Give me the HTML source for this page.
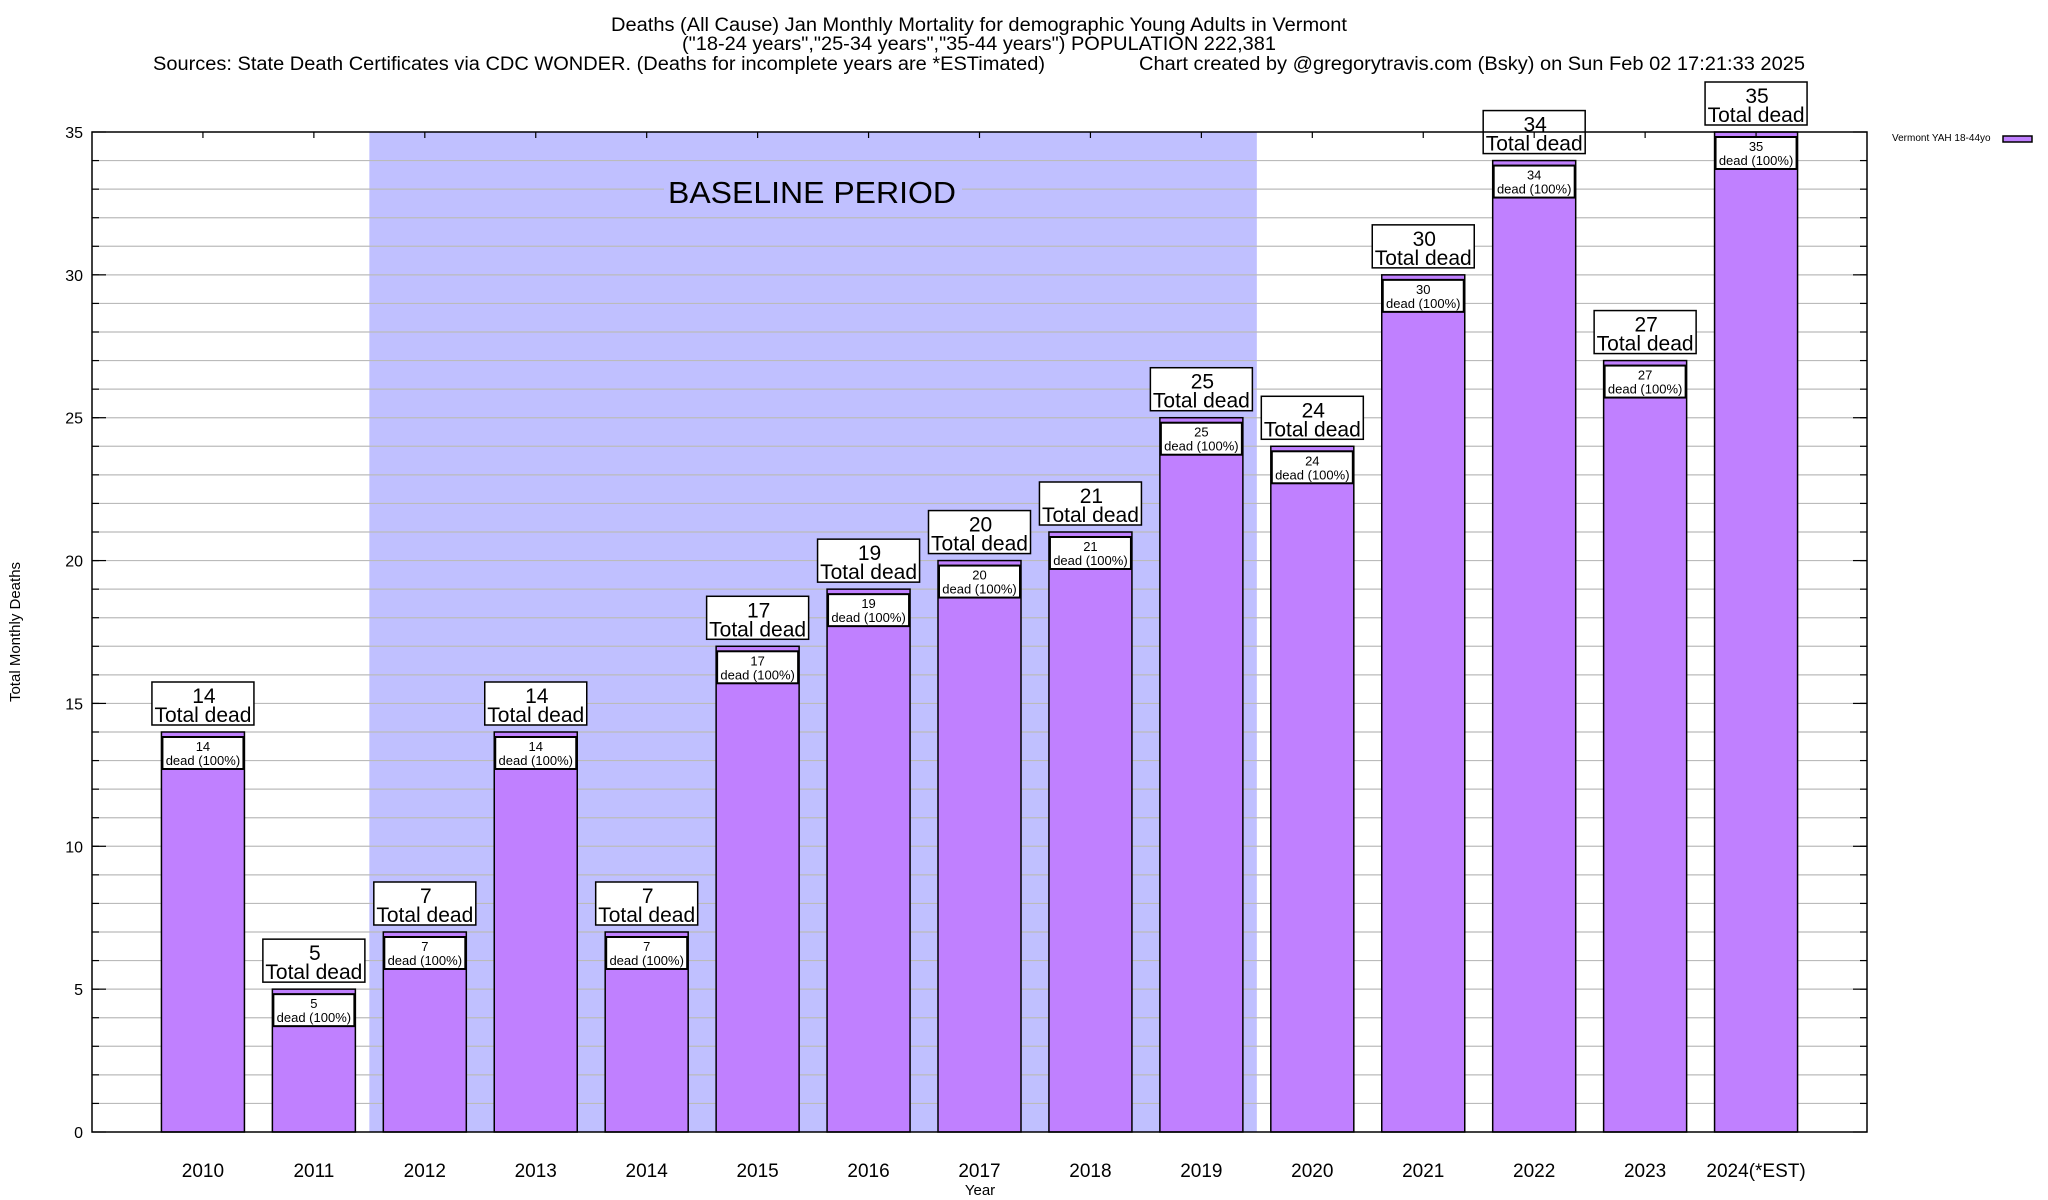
<!DOCTYPE html>
<html><head><meta charset="utf-8"><style>
html,body{margin:0;padding:0;background:#fff;}
svg{display:block;font-family:"Liberation Sans",sans-serif;}
</style></head><body>
<svg id="chart" width="2048" height="1200" viewBox="0 0 2048 1200">
<g id="titles">
<text x="979" y="31" font-size="19" text-anchor="middle" textLength="736" lengthAdjust="spacingAndGlyphs">Deaths (All Cause) Jan Monthly Mortality for demographic Young Adults in Vermont</text>
<text x="979" y="50" font-size="19" text-anchor="middle" textLength="594" lengthAdjust="spacingAndGlyphs">("18-24 years","25-34 years","35-44 years") POPULATION 222,381</text>
<text x="153" y="70" font-size="19" textLength="892" lengthAdjust="spacingAndGlyphs">Sources: State Death Certificates via CDC WONDER. (Deaths for incomplete years are *ESTimated)</text>
<text x="1139" y="70" font-size="19" textLength="666" lengthAdjust="spacingAndGlyphs">Chart created by @gregorytravis.com (Bsky) on Sun Feb 02 17:21:33 2025</text>
</g>
<g id="grid"></g>
<g id="bars"></g>
<g id="axes"></g>
<text x="20" y="632" font-size="15" text-anchor="middle" transform="rotate(-90 20 632)">Total Monthly Deaths</text>
<text x="980" y="1195" font-size="15" text-anchor="middle">Year</text>
<text x="1892" y="141" font-size="10">Vermont YAH 18-44yo</text>
<rect x="2003" y="136" width="29" height="6" fill="#c080ff" stroke="#000" stroke-width="1.5"></rect>
</svg>
<script>
const categories = ["2010","2011","2012","2013","2014","2015","2016","2017","2018","2019","2020","2021","2022","2023","2024(*EST)"];
const deaths = [14,5,7,14,7,17,19,20,21,25,24,30,34,27,35];
const yTicks = [0,5,10,15,20,25,30,35];
const baselineStart = 2; const baselineEnd = 9;
const NS="http://www.w3.org/2000/svg";
const L=92,R=1867,T=132,B=1132,YMAX=35;
const slot=(R-L)/(categories.length+1);
const xc=i=>L+(i+1)*slot;
const y=v=>B-(v/YMAX)*(B-T);
function mk(tag,attrs,parent,text){const e=document.createElementNS(NS,tag);for(const k in attrs)e.setAttribute(k,attrs[k]);if(text!==undefined)e.textContent=text;parent.appendChild(e);return e;}
const grid=document.getElementById('grid'),bars=document.getElementById('bars'),axes=document.getElementById('axes');
const bl=mk('rect',{x:xc(baselineStart)-slot/2,y:T,width:(baselineEnd-baselineStart+1)*slot,height:B-T,fill:'#c0c0ff'},grid);


for(let v=1;v<YMAX;v++){
  const g=mk('line',{x1:L,x2:R,y1:y(v),y2:y(v),stroke:'#bbb','stroke-width':1.2},grid);
  
  
  mk('line',{x1:L,x2:L+7,y1:y(v),y2:y(v),stroke:'#000','stroke-width':1.2},axes);
  mk('line',{x1:R-7,x2:R,y1:y(v),y2:y(v),stroke:'#000','stroke-width':1.2},axes);
}
mk('rect',{x:664,y:176,width:298,height:32,fill:'#c0c0ff'},grid);
const bt=mk('text',{x:668,y:203,'font-size':31,textLength:288,lengthAdjust:'spacingAndGlyphs'},grid,'BASELINE PERIOD');


const bw=83;
deaths.forEach((d,i)=>{
  const cx=xc(i),top=y(d);
  const b=mk('rect',{x:cx-bw/2,y:top,width:bw,height:B-top,fill:'#c080ff',stroke:'#000','stroke-width':1.5},bars);
  
  
  const ib=mk('rect',{x:cx-bw/2+1,y:top+5,width:bw-2,height:32,fill:'#fff',stroke:'#000','stroke-width':2},bars);
  
  
  mk('text',{x:cx,y:top+19,'font-size':13,'text-anchor':'middle'},bars,String(d));
  mk('text',{x:cx,y:top+33,'font-size':13,'text-anchor':'middle'},bars,'dead (100%)');
  const tb=mk('rect',{x:cx-51,y:top-50,width:102,height:43,fill:'#fff',stroke:'#000','stroke-width':1.5},bars);
  
  
  mk('text',{x:cx+1,y:top-29,'font-size':21,'text-anchor':'middle'},bars,String(d));
  mk('text',{x:cx,y:top-10,'font-size':21,'text-anchor':'middle'},bars,'Total dead');
  const xl=mk('text',{x:cx,y:1177,'font-size':19,'text-anchor':'middle'},axes,categories[i]);
  
  
  mk('line',{x1:cx,x2:cx,y1:T,y2:T+6,stroke:'#000','stroke-width':1.2},axes);
});
yTicks.forEach(v=>{
  mk('line',{x1:L,x2:L+14,y1:y(v),y2:y(v),stroke:'#000','stroke-width':1.2},axes);
  mk('line',{x1:R-14,x2:R,y1:y(v),y2:y(v),stroke:'#000','stroke-width':1.2},axes);
  const t=mk('text',{x:83,y:y(v)+6,'font-size':16,'text-anchor':'end'},axes,String(v));
  
  
});
const fr=mk('rect',{x:L,y:T,width:R-L,height:B-T,fill:'none',stroke:'#000','stroke-width':1.5},axes);


</script>
</body></html>
